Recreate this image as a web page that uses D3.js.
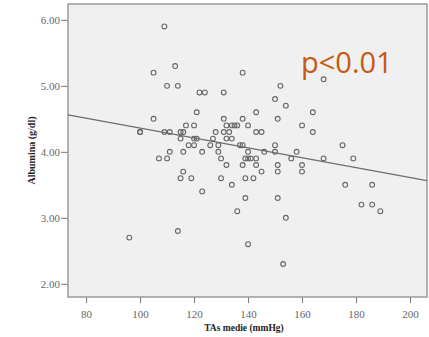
<!DOCTYPE html>
<html>
<head>
<meta charset="utf-8">
<script src="https://cdn.jsdelivr.net/npm/d3@7"></script>
<style>
  body { margin: 0; background: #fff; }
</style>
</head>
<body>
<div id="chart"></div>
<script>
// TAs medie (mmHg) for each patient
const tasValues = [
  109, 113, 105, 138, 168, 110, 114, 152, 122, 124, 131, 150, 154, 121, 143, 164,
  105, 131, 138, 151,
  117, 120, 132, 134, 135, 136, 140, 160,
  100, 100, 109, 111, 115, 116, 128, 131, 133, 143, 145, 164,
  115, 120, 121, 127, 132, 134,
  118, 120, 126, 129, 137, 138, 150, 175,
  111, 116, 123, 129, 140, 146, 150, 158,
  107, 110, 130, 139, 140, 141, 143, 156, 168, 179,
  132, 138, 143, 151, 160,
  116, 145, 151, 160,
  115, 119, 130, 139, 142,
  134, 176, 186,
  123, 139, 151, 182, 186, 136, 189, 154, 114, 96, 140, 153
];
// Albumina (g/dl), same order
const albValues = [
  5.9, 5.3, 5.2, 5.2, 5.1, 5.0, 5.0, 5.0, 4.9, 4.9, 4.9, 4.8, 4.7, 4.6, 4.6, 4.6,
  4.5, 4.5, 4.5, 4.5,
  4.4, 4.4, 4.4, 4.4, 4.4, 4.4, 4.4, 4.4,
  4.3, 4.3, 4.3, 4.3, 4.3, 4.3, 4.3, 4.3, 4.3, 4.3, 4.3, 4.3,
  4.2, 4.2, 4.2, 4.2, 4.2, 4.2,
  4.1, 4.1, 4.1, 4.1, 4.1, 4.1, 4.1, 4.1,
  4.0, 4.0, 4.0, 4.0, 4.0, 4.0, 4.0, 4.0,
  3.9, 3.9, 3.9, 3.9, 3.9, 3.9, 3.9, 3.9, 3.9, 3.9,
  3.8, 3.8, 3.8, 3.8, 3.8,
  3.7, 3.7, 3.7, 3.7,
  3.6, 3.6, 3.6, 3.6, 3.6,
  3.5, 3.5, 3.5,
  3.4, 3.3, 3.3, 3.2, 3.2, 3.1, 3.1, 3.0, 2.8, 2.7, 2.6, 2.3
];
// fit line
const fitIntercept = 5.11;
const fitSlope = -0.0075;

const xTicks = [80, 100, 120, 140, 160, 180, 200];
const yTicks = [2, 3, 4, 5, 6];

const data = tasValues.map((x, i) => ({ x: x, y: albValues[i] }));

const width = 429, height = 337;
const margin = { top: 4, right: 2, bottom: 40, left: 68 };
const plotW = width - margin.left - margin.right;
const plotH = height - margin.top - margin.bottom;

const svg = d3.select("#chart")
  .append("svg")
  .attr("width", width)
  .attr("height", height);

const g = svg.append("g")
  .attr("transform", "translate(" + margin.left + "," + margin.top + ")");

const xScale = d3.scaleLinear().domain([73.3, 206.3]).range([0, plotW]);
const yScale = d3.scaleLinear().domain([1.8, 6.24]).range([plotH, 0]);

// plot background
g.append("rect")
  .attr("width", plotW)
  .attr("height", plotH)
  .style("fill", "#f0f0f0");

// axes
const xAxis = g.append("g")
  .attr("transform", "translate(0," + plotH + ")")
  .call(d3.axisBottom(xScale).tickValues(xTicks).tickSize(6).tickSizeOuter(0));
xAxis.select(".domain").remove();
xAxis.selectAll("line").attr("stroke", "#777");
xAxis.selectAll("text")
  .attr("dy", "1.05em")
  .style("font-family", "'Liberation Serif', serif")
  .style("font-size", "11px")
  .style("fill", "#666");

const yAxis = g.append("g")
  .call(d3.axisLeft(yScale).tickValues(yTicks).tickSize(7).tickPadding(1).tickFormat(d3.format(".2f")).tickSizeOuter(0));
yAxis.select(".domain").remove();
yAxis.selectAll("line").attr("stroke", "#777");
yAxis.selectAll("text")
  .style("font-family", "'Liberation Serif', serif")
  .style("font-size", "11px")
  .style("fill", "#666");

// frame
g.append("rect")
  .attr("width", plotW)
  .attr("height", plotH)
  .style("fill", "none")
  .style("stroke", "#9a9a9a")
  .style("stroke-width", 1.5);

// axis titles
svg.append("text")
  .attr("x", margin.left + xScale(138.5))
  .attr("y", 331)
  .attr("text-anchor", "middle")
  .style("font-family", "'Liberation Serif', serif")
  .style("font-weight", "bold")
  .style("font-size", "9.5px")
  .style("fill", "#222")
  .text("TAs medie (mmHg)");

svg.append("text")
  .attr("transform", "translate(35," + (margin.top + plotH / 2) + ") rotate(-90)")
  .attr("text-anchor", "middle")
  .style("font-family", "'Liberation Serif', serif")
  .style("font-weight", "bold")
  .style("font-size", "10px")
  .style("fill", "#222")
  .text("Albumina (g/dl)");

// fit line across the whole plot
const xDom = xScale.domain();
g.append("line")
  .attr("x1", xScale(xDom[0]))
  .attr("x2", xScale(xDom[1]))
  .attr("y1", yScale(fitIntercept + fitSlope * xDom[0]))
  .attr("y2", yScale(fitIntercept + fitSlope * xDom[1]))
  .attr("stroke", "#6e6e6e")
  .attr("stroke-width", 1.2);

// points
g.selectAll("dots")
  .data(data)
  .enter()
  .append("circle")
  .attr("cx", d => xScale(d.x))
  .attr("cy", d => yScale(d.y))
  .attr("r", 2.4)
  .style("fill", "none")
  .style("stroke", "#666")
  .style("stroke-width", 1.1);

// p value label
g.append("text")
  .attr("x", 233)
  .attr("y", 69)
  .style("font-family", "'Open Sans', sans-serif")
  .style("font-size", "29px")
  .style("fill", "#c55a11")
  .text("p<0.01");
</script>
</body>
</html>
